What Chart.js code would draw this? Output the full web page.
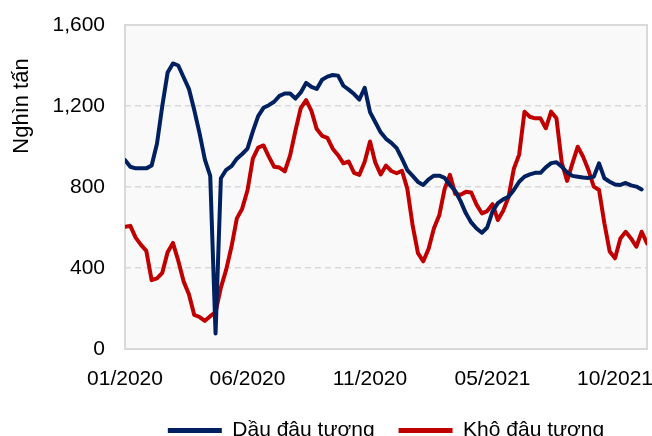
<!DOCTYPE html>
<html>
<head>
<meta charset="utf-8">
<script src="https://cdn.jsdelivr.net/npm/chart.js@4"></script>
<style>
	html, body { margin: 0; padding: 0; background: #fff; }
	#chart-box { width: 652px; height: 436px; }
</style>
</head>
<body>
<div id="chart-box"><canvas id="soy-chart"></canvas></div>
<script>
// Weekly values, thousand tonnes
var soyOil = [
	933, 900, 892, 892, 892, 906, 1014, 1200, 1365, 1410,
	1400, 1342, 1285, 1180, 1065, 935, 855, 77, 843, 885,
	903, 940, 963, 990, 1075, 1150, 1191, 1204, 1221, 1250,
	1262, 1262, 1237, 1267, 1314, 1294, 1284, 1330, 1345, 1353,
	1350, 1300, 1281, 1259, 1232, 1290, 1170, 1120, 1070, 1038,
	1018, 992, 940, 883, 855, 825, 810, 838, 856, 856,
	845, 810, 780, 730, 670, 625, 595, 574, 600, 680,
	720, 739, 752, 785, 826, 851, 862, 870, 870, 897,
	918, 922, 900, 872, 855, 851, 847, 845, 850, 917,
	843, 826, 812, 810, 820, 808, 802, 788
];
var soyMeal = [
	604, 608, 550, 514, 485, 340, 349, 376, 478, 524,
	436, 334, 270, 168, 158, 139, 162, 182, 303, 392,
	506, 645, 693, 784, 940, 995, 1005, 950, 900, 896,
	877, 956, 1078, 1190, 1229, 1176, 1086, 1053, 1043, 989,
	957, 917, 926, 870, 860, 925, 1025, 920, 862, 906,
	879, 868, 880, 792, 610, 473, 433, 495, 596, 660,
	790, 860, 766, 762, 776, 773, 713, 670, 681, 715,
	637, 683, 750, 890, 960, 1172, 1147, 1139, 1139, 1090,
	1172, 1139, 920, 830, 917, 999, 950, 884, 802, 785,
	621, 481, 448, 546, 579, 546, 505, 579, 522
];
var seriesNames = ['Dầu đậu tương', 'Khô đậu tương'];
var xTickLabels = ['01/2020', '06/2020', '11/2020', '05/2021', '10/2021'];
var weeksPerTick = 23;
var yTicks = [0, 400, 800, 1200, 1600];
var yTitle = 'Nghìn tấn';

function toPoints(arr) {
	return arr.map(function (v, i) {
		return { x: i, y: v };
	});
}

// Plot box, border and axis title
var plotFrame = {
	id: 'plotFrame',
	beforeDraw: function (chart) {
		var a = chart.chartArea;
		var ctx = chart.ctx;
		ctx.save();
		ctx.fillStyle = '#f9f9f9';
		ctx.fillRect(a.left, a.top, a.right - a.left, a.bottom - a.top);
		ctx.restore();
	},
	beforeDatasetsDraw: function (chart) {
		var a = chart.chartArea;
		var ctx = chart.ctx;
		ctx.save();
		ctx.strokeStyle = '#d9d9d9';
		ctx.lineWidth = 2;
		ctx.strokeRect(a.left, a.top, a.right - a.left, a.bottom - a.top);
		ctx.restore();
	},
	afterDraw: function (chart) {
		var ctx = chart.ctx;
		ctx.save();
		ctx.translate(22, 106);
		ctx.rotate(-Math.PI / 2);
		ctx.font = '22px "Liberation Sans", Arial, sans-serif';
		ctx.fillStyle = '#000';
		ctx.textAlign = 'center';
		ctx.textBaseline = 'middle';
		ctx.fillText(yTitle, 0, 0);
		ctx.restore();
	}
};

Chart.defaults.font.family = '"Liberation Sans", Arial, sans-serif';
Chart.defaults.font.size = 21;
Chart.defaults.color = '#000';

var ctx = document.getElementById('soy-chart').getContext('2d');
var myChart = new Chart(ctx, {
	type: 'line',
	data: {
		datasets: [
			{
				label: seriesNames[0],
				data: toPoints(soyOil),
				borderColor: '#002060',
				backgroundColor: '#002060',
				borderWidth: 4,
				pointRadius: 0,
				borderCapStyle: 'round',
				borderJoinStyle: 'round',
				tension: 0,
				fill: false,
			},
			{
				label: seriesNames[1],
				data: toPoints(soyMeal),
				borderColor: '#c00000',
				backgroundColor: '#c00000',
				borderWidth: 4,
				pointRadius: 0,
				borderCapStyle: 'round',
				borderJoinStyle: 'round',
				tension: 0,
				fill: false,
			},
		],
	},
	options: {
		responsive: true,
		maintainAspectRatio: false,
		animation: false,
		layout: {
			padding: { top: 25, right: 5, left: 0, bottom: -15 },
		},
		plugins: {
			legend: {
				position: 'bottom',
				fullSize: false,
				labels: {
					usePointStyle: true,
					pointStyle: 'line',
					pointStyleWidth: 54,
					padding: 24,
					font: { size: 21, lineHeight: 1 },
					generateLabels: function (chart) {
						var items = Chart.defaults.plugins.legend.labels.generateLabels(chart);
						items.forEach(function (it) {
							it.lineWidth = 5;
						});
						return items;
					},
				},
			},
			tooltip: { enabled: false },
		},
		scales: {
			x: {
				type: 'linear',
				min: 0,
				max: soyMeal.length - 1,
				grid: { display: false, drawTicks: false },
				border: { display: false },
				afterBuildTicks: function (scale) {
					scale.ticks = xTickLabels.map(function (t, i) {
						return { value: i * weeksPerTick };
					});
				},
				ticks: {
					padding: 18,
					maxRotation: 0,
					autoSkip: false,
					callback: function (value) {
						return xTickLabels[Math.round(value / weeksPerTick)];
					},
				},
				afterFit: function (scale) {
					scale.height = 47;
					scale.paddingLeft = 0;
					scale.paddingRight = 0;
				},
			},
			y: {
				min: 0,
				max: 1600,
				afterBuildTicks: function (scale) {
					scale.ticks = yTicks.map(function (v) {
						return { value: v };
					});
				},
				grid: {
					color: '#d9d9d9',
					lineWidth: 1.5,
					drawTicks: false,
				},
				border: { display: false, dash: [6, 4] },
				ticks: {
					padding: 20,
					callback: function (value) {
						return value.toLocaleString('en-US');
					},
				},
				afterFit: function (scale) {
					scale.width = 125;
					scale.paddingTop = 0;
					scale.paddingBottom = 0;
				},
			},
		},
	},
	plugins: [plotFrame],
});
</script>
</body>
</html>
